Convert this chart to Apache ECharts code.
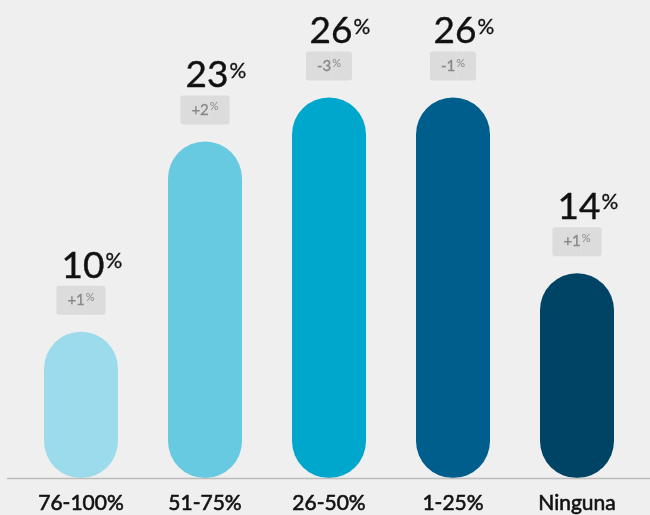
<!DOCTYPE html>
<html>
<head>
<meta charset="utf-8">
<style>
  html, body { margin: 0; padding: 0; background: #efefef; }
  #chart { width: 650px; height: 515px; }
</style>
<script src="https://cdn.jsdelivr.net/npm/echarts@6/dist/echarts.min.js"></script>
</head>
<body>
<div id="chart"></div>
<script>
var categories = ['76-100%', '51-75%', '26-50%', '1-25%', 'Ninguna'];
var shares = [10, 23, 26, 26, 14];
var changes = ['+1', '+2', '-3', '-1', '+1'];
var colors = ['#9bdbeb', '#67cae0', '#00a7cc', '#005e8c', '#004465'];

var chart = echarts.init(document.getElementById('chart'));

var option = {
  backgroundColor: '#efefef',
  animation: false,
  grid: {
    left: 19,
    right: 11,
    top: 39,
    bottom: 37
  },
  xAxis: {
    type: 'category',
    data: categories,
    axisLine: { show: false },
    axisTick: { show: false },
    axisLabel: {
      margin: 15,
      fontFamily: 'Lato',
      fontSize: 21,
      color: '#111',
      textBorderColor: '#111',
      textBorderWidth: 0.6
    }
  },
  yAxis: {
    type: 'value',
    min: 0,
    max: 30,
    show: false,
    splitLine: { show: false }
  },
  graphic: [{
    type: 'line',
    shape: { x1: 7, y1: 478.5, x2: 650, y2: 478.5 },
    style: { stroke: '#bdbdbd', lineWidth: 1.5 },
    z: 10
  }],
  series: [{
    type: 'bar',
    barWidth: 74,
    data: shares.map(function (v, i) {
      return {
        value: v,
        itemStyle: { color: colors[i] },
        label: {
          formatter: '{v|' + v + '}{p|%}\n{d|' + changes[i] + '}{dp|%}'
        }
      };
    }),
    itemStyle: { borderRadius: 37 },
    label: {
      show: true,
      position: 'top',
      distance: 17,
      align: 'center',
      rich: {
        v: {
          fontFamily: 'Lato',
          fontSize: 37,
          color: '#111',
          textBorderColor: '#111',
          textBorderWidth: 0.4,
          lineHeight: 40,
          padding: [0, 0, 0, 22]
        },
        p: {
          fontFamily: 'Lato',
          fontSize: 21,
          color: '#111',
          textBorderColor: '#111',
          textBorderWidth: 0.3,
          verticalAlign: 'top',
          lineHeight: 21,
          padding: [5, 0, 0, 1]
        },
        d: {
          fontFamily: 'Lato',
          fontSize: 15,
          color: '#888',
          textBorderColor: '#888',
          textBorderWidth: 0.3,
          backgroundColor: '#dcdcdc',
          borderRadius: [3, 0, 0, 3],
          padding: [7, 1, 7, 11]
        },
        dp: {
          fontFamily: 'Lato',
          fontSize: 11,
          color: '#888',
          backgroundColor: '#dcdcdc',
          borderRadius: [0, 3, 3, 0],
          padding: [6, 11, 12, 0]
        }
      }
    }
  }]
};

chart.setOption(option);
</script>
</body>
</html>
